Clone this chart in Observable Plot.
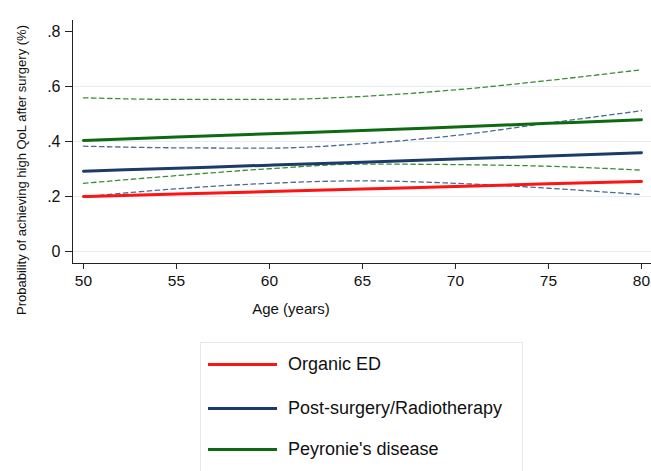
<!DOCTYPE html>
<html>
<head>
<meta charset="utf-8">
<script src="https://cdn.jsdelivr.net/npm/d3@7"></script>
<script src="https://cdn.jsdelivr.net/npm/@observablehq/plot@0.6"></script>
<style>
  body { margin: 0; background: #fff; font-family: "Liberation Sans", Arial, sans-serif; }
  #wrap { position: relative; width: 651px; height: 471px; overflow: hidden; }
  #legend { position: absolute; left: 200px; top: 342px; width: 323px; height: 140px;
            border: 1px solid #e3eaef; border-bottom: none; box-sizing: border-box; }
  .row { position: absolute; left: 0; height: 20px; }
  .sw { position: absolute; left: 7px; width: 69px; height: 3px; top: 9px; }
  .lab { position: absolute; left: 87px; top: 0; white-space: nowrap; font-size: 18px; line-height: 20px; color: #111; }
</style>
</head>
<body>
<div id="wrap"><div id="chart"></div><div id="legend"></div></div>
<script>
// Data
const ages = [50, 55, 60, 65, 70, 75, 80];
const organicED = [0.200, 0.209, 0.218, 0.227, 0.236, 0.246, 0.255];
const postSurgery = [0.292, 0.303, 0.314, 0.325, 0.336, 0.347, 0.359];
const postSurgeryLo = [0.199, 0.228, 0.248, 0.257, 0.248, 0.230, 0.207];
const postSurgeryHi = [0.383, 0.377, 0.376, 0.392, 0.422, 0.467, 0.512];
const peyronie = [0.404, 0.416, 0.428, 0.440, 0.453, 0.466, 0.479];
const peyronieLo = [0.248, 0.276, 0.301, 0.318, 0.316, 0.310, 0.296];
const peyronieHi = [0.559, 0.553, 0.553, 0.564, 0.588, 0.622, 0.661];
const yTicks = [0, 0.2, 0.4, 0.6, 0.8];
const gridTicks = [0, 0.2, 0.4, 0.6];
const xTicks = [50, 55, 60, 65, 70, 75, 80];
const legendNames = ["Organic ED", "Post-surgery/Radiotherapy", "Peyronie's disease"];

const colRed = "#ff1414", colBlue = "#1b3c68", colGreen = "#0e6a10";
const colBlueCI = "#4b6b92", colGreenCI = "#3d8c3a";

const series = [
  {name: "pey_hi", values: peyronieHi, color: colGreenCI, dashed: true},
  {name: "pey_lo", values: peyronieLo, color: colGreenCI, dashed: true},
  {name: "ps_hi", values: postSurgeryHi, color: colBlueCI, dashed: true},
  {name: "ps_lo", values: postSurgeryLo, color: colBlueCI, dashed: true},
  {name: legendNames[0], values: organicED, color: colRed, dashed: false},
  {name: legendNames[1], values: postSurgery, color: colBlue, dashed: false},
  {name: legendNames[2], values: peyronie, color: colGreen, dashed: false}
];
const rows = series.flatMap(s => ages.map((a, i) => ({age: a, p: s.values[i], name: s.name, color: s.color, dashed: s.dashed})));
const dashedRows = rows.filter(d => d.dashed);
const solidRows = rows.filter(d => !d.dashed);

const yfmt = d => d === 0 ? "0" : d3.format(".1f")(d).replace(/^0/, "");

const chart = Plot.plot({
  width: 651,
  height: 335,
  marginLeft: 72,
  marginRight: 0,
  marginTop: 20,
  marginBottom: 72,
  style: {fontFamily: "'Liberation Sans', Arial, sans-serif", background: "#fff"},
  x: {domain: [49.41, 80.54]},
  y: {domain: [-0.0436, 0.84]},
  marks: [
    Plot.ruleY(gridTicks, {stroke: "#e6edf2", strokeWidth: 1.2}),
    Plot.frame({anchor: "left", stroke: "#222", strokeWidth: 1}),
    Plot.frame({anchor: "bottom", stroke: "#222", strokeWidth: 1}),
    Plot.axisX({ticks: xTicks, tickFormat: d => String(d), tickSize: 6, tickPadding: 5, fontSize: 15.5, label: null, stroke: "#222", color: "#111"}),
    Plot.axisY({ticks: yTicks, tickFormat: yfmt, tickSize: 7, tickPadding: 5, fontSize: 16, label: null, stroke: "#222", color: "#111"}),
    Plot.line(dashedRows, {x: "age", y: "p", z: "name", stroke: "color", strokeWidth: 1.3, strokeDasharray: "4.5,3.5", curve: "monotone-x"}),
    Plot.line(solidRows, {x: "age", y: "p", z: "name", stroke: "color", strokeWidth: 3, curve: "monotone-x"}),
    Plot.text(["Age (years)"], {frameAnchor: "bottom", dx: -71, dy: 50, fontSize: 15, fill: "#111"}),
    Plot.text(["Probability of achieving high QoL after surgery (%)"], {frameAnchor: "left", textAnchor: "middle", rotate: -90, dx: -51, dy: 28, fontSize: 13, fill: "#111"})
  ]
});
document.getElementById("chart").appendChild(chart);

// Legend
const legendColors = [colRed, colBlue, colGreen];
const legend = document.getElementById("legend");
const rowTops = [11, 55, 96];
legendNames.forEach((n, i) => {
  const r = document.createElement("div");
  r.className = "row";
  r.style.top = rowTops[i] + "px";
  const sw = document.createElement("div");
  sw.className = "sw";
  sw.style.background = legendColors[i];
  const lab = document.createElement("div");
  lab.className = "lab";
  lab.textContent = n;
  r.appendChild(sw); r.appendChild(lab);
  legend.appendChild(r);
});
</script>
</body>
</html>
